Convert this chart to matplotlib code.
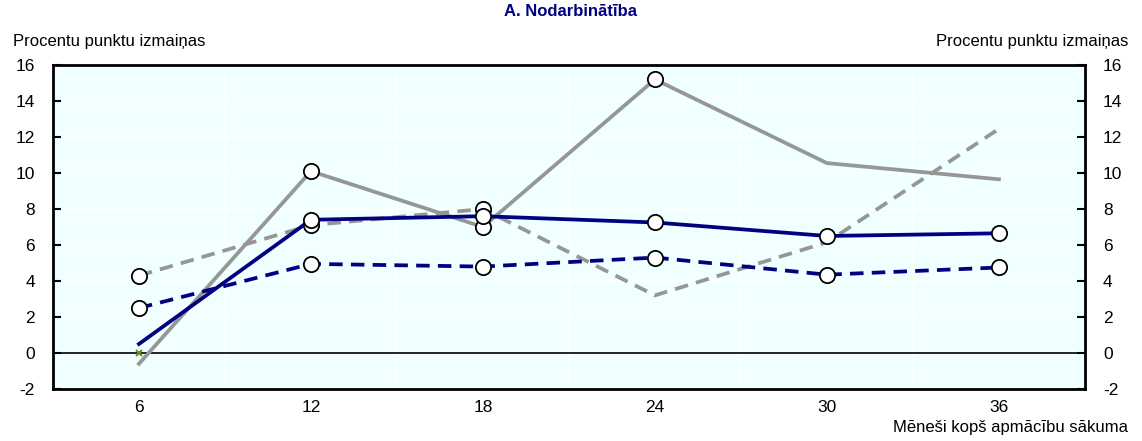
import numpy as np
import matplotlib
matplotlib.use("Agg")
import matplotlib.pyplot as plt

plt.rcParams['font.family'] = ['Liberation Sans', 'DejaVu Sans']
plt.rcParams['axes.unicode_minus'] = False

# Data
months = ["6", "12", "18", "24", "30", "36"]
navy_solid = [0.5, 7.4, 7.6, 7.25, 6.5, 6.65]
navy_dashed = [2.5, 4.95, 4.8, 5.3, 4.35, 4.75]
gray_solid = [-0.6, 10.1, 7.0, 15.2, 10.55, 9.65]
gray_dashed = [4.3, 7.1, 8.0, 3.2, 6.15, 12.45]

# which points carry an open circle marker
navy_solid_mark = [False, True, True, True, True, True]
navy_dashed_mark = [True, True, True, True, True, True]
gray_solid_mark = [False, True, True, True, False, False]
gray_dashed_mark = [True, True, True, False, False, False]

navy = "#000080"
gray = "#969696"

fig = plt.figure(figsize=(11.42, 4.41), dpi=100)
ax = fig.add_axes([0.0464, 0.118, 0.9036, 0.7346])
ax.set_facecolor("#F0FFFF")

x = np.arange(len(months))

series = [
    (gray_solid, gray_solid_mark, gray, "-"),
    (gray_dashed, gray_dashed_mark, gray, (0, (3.6, 2.2))),
    (navy_dashed, navy_dashed_mark, navy, (0, (3.6, 2.2))),
    (navy_solid, navy_solid_mark, navy, "-"),
]
for vals, mark, col, ls in series:
    ax.plot(x, vals, color=col, lw=2.7, linestyle=ls, zorder=3)
    mx = [xi for xi, m in zip(x, mark) if m]
    my = [v for v, m in zip(vals, mark) if m]
    ax.plot(mx, my, linestyle="none", marker="o", ms=11, mfc="white",
            mec="black", mew=1.3, zorder=4)

# small green cross at the start
ax.plot([0], [0], marker="x", color="#6B8E23", ms=4, mew=1.5, zorder=5)

ax.axhline(0, color="black", lw=1.2, zorder=2)

ax.set_xlim(-0.5, len(months) - 0.5)
ax.set_ylim(-2, 16)
ax.set_yticks(np.arange(-2, 17, 2))
ax.set_xticks(x)
ax.set_xticklabels(months)
ax.set_xticks(np.arange(0.5, len(months) - 0.5, 1), minor=True)

ax.grid(axis="y", which="major", color="white", lw=1.2, zorder=1)
ax.grid(axis="x", which="minor", color="white", lw=1.2, zorder=1)
ax.set_axisbelow(True)

for s in ax.spines.values():
    s.set_linewidth(2)
    s.set_color("black")

ax.tick_params(axis="y", direction="in", length=6, width=1.5, labelsize=12.5,
               left=True, right=True, labelleft=True, labelright=True, pad=13)
ax.tick_params(axis="x", which="both", length=0, labelsize=12.5, pad=8)
for lab in ax.get_yticklabels():
    pass

fig.text(0.011, 0.905, "Procentu punktu izmaiņas", fontsize=12, ha="left", va="center")
fig.text(0.988, 0.905, "Procentu punktu izmaiņas", fontsize=12, ha="right", va="center")
fig.text(0.5, 0.975, "A. Nodarbinātība", fontsize=12, fontweight="bold",
         color=navy, ha="center", va="center")
fig.text(0.988, 0.03, "Mēneši kopš apmācību sākuma", fontsize=12, ha="right", va="center")

fig.savefig("out.png", dpi=100)
